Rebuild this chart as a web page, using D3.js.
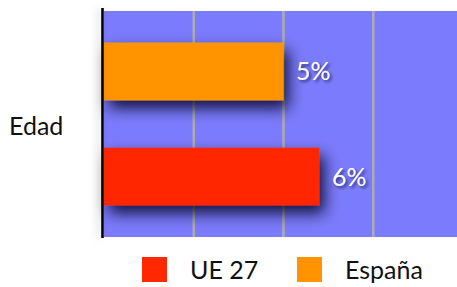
<!DOCTYPE html>
<html><head><meta charset="utf-8">
<script src="https://cdn.jsdelivr.net/npm/d3@7"></script>
<style>html,body{margin:0;padding:0;background:#fff;overflow:hidden}</style>
</head><body>
<svg id="c" width="457" height="287"></svg>
<script>
const categories = ["Edad"];
const seriesNames = ["España", "UE 27"];
const seriesValues = [5, 6];
const valueLabels = ["5%", "6%"];
const seriesColors = ["#ff9300", "#ff2800"];
const gridTicks = [2.5, 5, 7.5, 10];
const legendNames = ["UE 27", "España"];
const legendColors = ["#ff2800", "#ff9300"];

(function(){
const svg = d3.select("#c");
const FONT = "Lato, 'Open Sans', sans-serif";
const defs = svg.append("defs");
const f = defs.append("filter").attr("id","sh").attr("x","-30%").attr("y","-60%").attr("width","170%").attr("height","230%");
f.append("feDropShadow").attr("dx",5).attr("dy",8).attr("stdDeviation",7.5).attr("flood-color","#000022").attr("flood-opacity",0.85);
const ft = defs.append("filter").attr("id","tsh").attr("x","-30%").attr("y","-50%").attr("width","170%").attr("height","200%");
ft.append("feDropShadow").attr("dx",2).attr("dy",2).attr("stdDeviation",1.5).attr("flood-color","#000022").attr("flood-opacity",0.6);
const fa = defs.append("filter").attr("id","ash").attr("filterUnits","userSpaceOnUse").attr("x",80).attr("y",0).attr("width",40).attr("height",250);
fa.append("feDropShadow").attr("dx",-3).attr("dy",0).attr("stdDeviation",4).attr("flood-color","#000").attr("flood-opacity",0.2);

const pLeft = 104, pTop = 11, pBottom = 237;
const x = d3.scaleLinear().domain([0, 10]).range([pLeft, 463]);
const y0 = d3.scaleBand().domain(categories).range([pTop, pBottom]);
const y1 = d3.scaleBand().domain(seriesNames).range([0, y0.bandwidth()]).paddingInner(0.45).paddingOuter(0.3);

svg.append("rect").attr("x", pLeft).attr("y", pTop).attr("width", 457 - pLeft).attr("height", pBottom - pTop).attr("fill", "#7b7bfd");

svg.append("g").selectAll("line").data(gridTicks).join("line")
  .attr("x1", d => x(d)).attr("x2", d => x(d)).attr("y1", pTop).attr("y2", pBottom)
  .attr("stroke", "#acacac").attr("stroke-width", 2.5);

const g = svg.append("g").attr("transform", `translate(0,${y0("Edad")})`);
g.selectAll("rect").data(seriesNames).join("rect")
  .attr("x", x(0)).attr("y", d => y1(d)).attr("width", (d,i) => x(seriesValues[i]) - x(0))
  .attr("height", y1.bandwidth()).attr("fill", (d,i) => seriesColors[i]).attr("filter","url(#sh)");

g.selectAll("text").data(seriesNames).join("text")
  .attr("x", (d,i) => x(seriesValues[i]) + 12.5).attr("y", d => y1(d) + y1.bandwidth()/2 + 9)
  .attr("fill", "#fff").attr("font-family", FONT).attr("font-size", 25)
  .attr("filter","url(#tsh)")
  .text((d,i) => valueLabels[i]);

svg.append("rect").attr("x", 101.2).attr("y", 8).attr("width", 2.6).attr("height", 230)
  .attr("fill", "#000").attr("filter","url(#ash)");

svg.append("text").attr("x", 9).attr("y", y0("Edad") + y0.bandwidth()/2 + 11)
  .attr("font-family", FONT).attr("font-size", 25).attr("fill", "#111").text(categories[0]);

const legX = [142, 297];
const lg = svg.append("g");
legendNames.forEach((n, i) => {
  lg.append("rect").attr("x", legX[i]).attr("y", 257).attr("width", 25).attr("height", 25).attr("fill", legendColors[i]);
  lg.append("text").attr("x", legX[i] + 48).attr("y", 279).attr("font-family", FONT).attr("font-size", 25).attr("fill", "#111").text(n);
});
})();
</script>
</body></html>
